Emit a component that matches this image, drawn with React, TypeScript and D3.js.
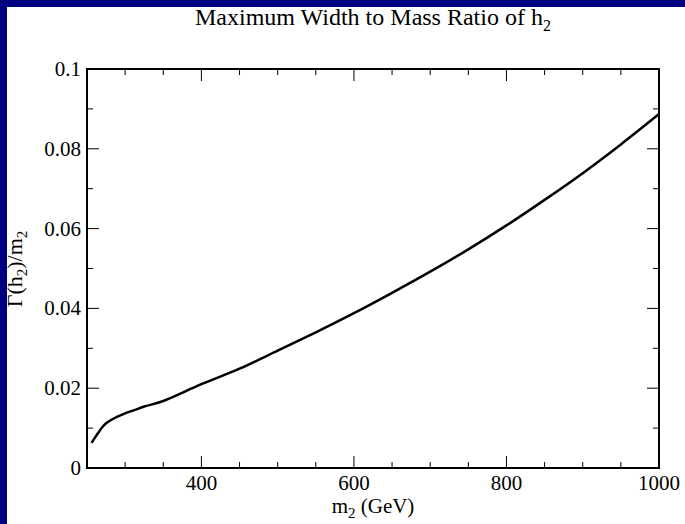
import React from 'react'
import * as d3 from 'd3'

const massGeV = [256, 260, 265, 270, 275, 282, 290, 300, 312, 325, 350, 400, 450, 500, 550, 600, 650, 700, 750, 800, 850, 900, 950, 1000]
const widthRatio = [0.0063, 0.0075, 0.0089, 0.0102, 0.0112, 0.0121, 0.0129, 0.0137, 0.0145, 0.0154, 0.0168, 0.021, 0.0249, 0.0294, 0.034, 0.0388, 0.0439, 0.0492, 0.0548, 0.0608, 0.0672, 0.0739, 0.0811, 0.0887]
const xMajor = [400, 600, 800, 1000]
const yMajor = [0, 0.02, 0.04, 0.06, 0.08, 0.1]
const yLabels = ['0', '0.02', '0.04', '0.06', '0.08', '0.1']

const W = 685
const H = 524
const frame = { left: 87, right: 659, top: 69, bottom: 468 }
const font = '"Liberation Serif", "DejaVu Serif", serif'

export default function App() {
  const x = d3.scaleLinear().domain([250, 1000]).range([frame.left, frame.right])
  const y = d3.scaleLinear().domain([0, 0.1]).range([frame.bottom, frame.top])

  const xMinor = d3.range(300, 1000, 50).filter(v => !xMajor.includes(v))
  const yMinor = d3.range(0.01, 0.1, 0.02)

  const line = d3.line<number>()
    .x((_, i) => x(massGeV[i]))
    .y(d => y(d))
    .curve(d3.curveCatmullRom)

  const major = 12
  const minor = 6

  return (
    <svg width={W} height={H} style={{ position: 'absolute', left: 0, top: 0 }} fontFamily={font}>
      <rect x={0} y={0} width={W} height={H} fill="#000080" />
      <rect x={7} y={7} width={W - 7} height={H - 7} fill="#ffffff" />

      <text x={373} y={25} fontSize={24} textAnchor="middle" fill="#000">
        Maximum Width to Mass Ratio of h<tspan fontSize={16} dy={6}>2</tspan>
      </text>

      {/* ticks on all sides, pointing inward */}
      <g stroke="#000" strokeWidth={1}>
        {xMajor.map((v, i) => (
          <g key={'xm' + i}>
            <line x1={x(v)} x2={x(v)} y1={frame.bottom} y2={frame.bottom - major} />
            <line x1={x(v)} x2={x(v)} y1={frame.top} y2={frame.top + major} />
          </g>
        ))}
        {xMinor.map((v, i) => (
          <g key={'xn' + i}>
            <line x1={x(v)} x2={x(v)} y1={frame.bottom} y2={frame.bottom - minor} />
            <line x1={x(v)} x2={x(v)} y1={frame.top} y2={frame.top + minor} />
          </g>
        ))}
        {yMajor.map((v, i) => (
          <g key={'ym' + i}>
            <line x1={frame.left} x2={frame.left + major} y1={y(v)} y2={y(v)} />
            <line x1={frame.right} x2={frame.right - major} y1={y(v)} y2={y(v)} />
          </g>
        ))}
        {yMinor.map((v, i) => (
          <g key={'yn' + i}>
            <line x1={frame.left} x2={frame.left + minor} y1={y(v)} y2={y(v)} />
            <line x1={frame.right} x2={frame.right - minor} y1={y(v)} y2={y(v)} />
          </g>
        ))}
      </g>

      <path d={line(widthRatio) || ''} fill="none" stroke="#000" strokeWidth={2.5} />

      <rect x={frame.left} y={frame.top} width={frame.right - frame.left} height={frame.bottom - frame.top}
        fill="none" stroke="#000" strokeWidth={2} />

      <g fontSize={21} fill="#000">
        {xMajor.map(v => (
          <text key={v} x={x(v)} y={490} textAnchor="middle">{v}</text>
        ))}
        {yMajor.map((v, i) => (
          <text key={v} x={81} y={y(v) + 7} textAnchor="end">{yLabels[i]}</text>
        ))}
      </g>

      <text x={373} y={513} fontSize={21} textAnchor="middle" fill="#000">
        m<tspan fontSize={15} dy={5}>2</tspan><tspan dy={-5}> (GeV)</tspan>
      </text>

      <text transform={`translate(22,${269}) rotate(-90)`} fontSize={22} textAnchor="middle" fill="#000">
        Γ(h<tspan fontSize={15} dy={5}>2</tspan><tspan dy={-5}>)/m</tspan><tspan fontSize={15} dy={5}>2</tspan>
      </text>
    </svg>
  )
}
